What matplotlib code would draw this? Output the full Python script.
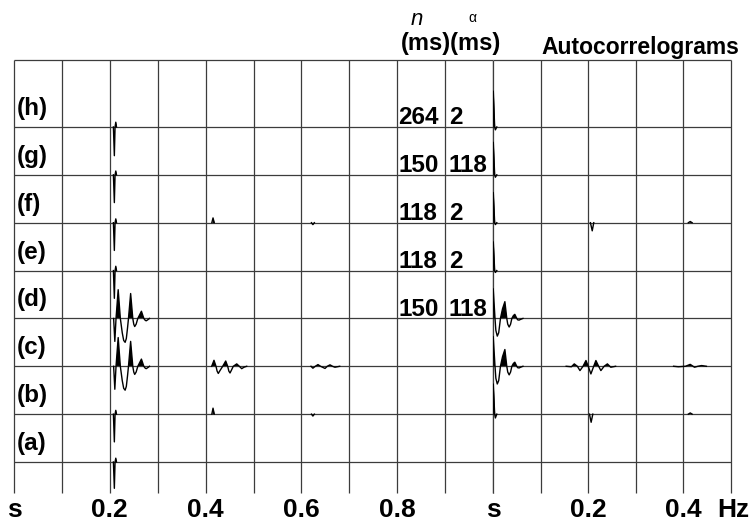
import matplotlib.pyplot as plt
import numpy as np

plt.rcParams['font.family'] = ['Liberation Sans', 'DejaVu Sans']
plt.rcParams['font.weight'] = 'bold'

W, H = 755, 522

# traces, bottom to top
row_labels = ['(a)', '(b)', '(c)', '(d)', '(e)', '(f)', '(g)', '(h)']

# filter table (rows h..d)
table_rows = [7, 6, 5, 4, 3]
n_ms = ['264', '150', '118', '118', '150']
alpha_ms = ['2', '118', '2', '2', '118']

# ---- left panel: seismic traces, time in ms, amplitude in trace spacings ----
spike_t = [207.5, 209.5, 211, 212.5, 214]
spike_a = [
    [0, -0.55, 0, 0.08, 0],   # (a)
    [0, -0.58, 0, 0.08, 0],   # (b)
    None,                     # (c)
    None,                     # (d)
    [0, -0.58, 0, 0.09, 0],   # (e)
    [0, -0.58, 0, 0.08, 0],   # (f)
    [0, -0.58, 0, 0.08, 0],   # (g)
    [0, -0.60, 0, 0.10, 0],   # (h)
]

# primary wavelet on (c) and (d)
wav_t = [208, 210.5, 213, 217.5, 222, 226, 229, 232, 234.5, 237, 239, 243.5, 248,
         250, 252, 255, 258.5, 266, 271, 274, 276, 279, 283]
wav_a = [0, -0.48, 0, 0.60, 0, -0.30, -0.46, -0.50, -0.42, -0.20, 0, 0.52, 0,
         -0.12, -0.17, -0.12, 0, 0.15, 0, -0.04, -0.05, -0.03, 0]

# multiples on (c)
echo1_t = [412.7, 417.5, 421.7, 424, 426.5, 430, 435.7, 442, 446.1, 448.5, 451,
           454, 457.8, 465, 470.4, 475.4, 480, 485.8]
echo1_a = [0, 0.125, 0, -0.10, -0.15, -0.09, 0, 0.11, 0, -0.10, -0.14,
           -0.08, 0, 0.05, 0, -0.05, -0.02, 0]
echo2_t = [620, 624, 629, 634.6, 640, 649.3, 654, 659.7, 665, 670, 680]
echo2_a = [0, -0.04, 0, 0.035, 0, -0.045, 0, 0.03, 0, -0.02, 0]

# small multiple spikes on (b) and (f)
mspike_t = [413, 415.5, 418]
mspike_a = [0, 0.125, 0]
mspike_f_a = [0, 0.10, 0]
dot_t = [621, 624, 627]
dot_a = [0, -0.04, 0]

# ---- right panel: autocorrelograms, lag in ms ----
acf0_t = [0, 0.6, 3.5, 5, 8]
acf0_a = [
    None,                       # (a)
    [0, 0.63, 0, -0.08, 0],     # (b)
    None,                       # (c)
    None,                       # (d)
    [0, 0.60, 0, -0.04, 0],     # (e)
    [0, 0.63, 0, -0.04, 0],     # (f)
    [0, 0.68, 0, -0.05, 0],     # (g)
    [0, 0.75, 0, -0.06, 0],     # (h)
]
acfw_t = [0, 0.5, 4.2, 6, 9, 12, 15.7, 20, 25, 29, 31, 34, 37, 39.7, 43, 45.9,
          50, 52, 54.9, 58, 63]
acfw_a = [0, 0.62, 0, -0.25, -0.37, -0.30, 0, 0.20, 0.35, 0, -0.12, -0.18,
          -0.12, 0, 0.06, 0.085, 0, -0.03, -0.035, -0.02, 0]
acfe1_t = [154, 165, 171, 177.5, 183, 189.4, 195.6, 200.4, 206, 211.9, 216.5,
           222.3, 227, 233.8, 240.7, 247.8, 258]
acfe1_a = [0, -0.01, 0.05, 0, -0.09, 0, 0.12, 0, -0.16, 0, 0.12, 0, -0.09, 0,
           0.05, -0.02, 0]
acfe2_t = [380, 390, 405, 415, 424, 431, 439, 449]
acfe2_a = [0, -0.01, 0, 0.04, -0.02, 0, 0.015, 0]
acfs_t = [203, 206.5, 210]
acfs_a = [0, -0.17, 0]
acfs_f_t = [205, 208.8, 212]
acft_t = [411, 415, 419]
acft_a = [0, 0.025, 0]

row_px = 47.86
y_lo = -31 / row_px
y_hi = 402 / row_px


def draw(ax, row, t_ms, a):
    t = np.array(t_ms) / 1000.0
    y = row + np.array(a)
    ax.fill_between(t, row, y, where=y > row, interpolate=True, color='k', lw=0)
    ax.plot(t, y, color='k', lw=1.0)


fig = plt.figure(figsize=(W / 100, H / 100), dpi=100)
axL = fig.add_axes([14 / W, 29 / H, 479 / W, 433 / H])
axR = fig.add_axes([493 / W, 29 / H, 240 / W, 433 / H])

for ax, xmax in [(axL, 1.0), (axR, 0.5)]:
    ax.set_xlim(0, xmax)
    ax.set_ylim(y_lo, y_hi)
    for s in ax.spines.values():
        s.set_visible(False)
    ax.set_yticks([])
    ax.vlines(np.arange(0, xmax + 0.01, 0.1), y_lo, y_hi, color='#3c3c3c', lw=0.9, clip_on=False)
    ax.hlines(list(range(8)) + [y_hi], 0, xmax, color='#3c3c3c', lw=0.9, clip_on=False)
    ax.tick_params(axis='x', length=0, pad=3.5, labelsize=19)

axL.set_xticks([0, 0.2, 0.4, 0.6, 0.8], ['s', '0.2', '0.4', '0.6', '0.8'])
axR.set_xticks([0, 0.2, 0.4, 0.505], ['s', '0.2', '0.4', 'Hz'])

# left traces
for i, a in enumerate(spike_a):
    if a is not None:
        draw(axL, i, spike_t, a)
for i in (2, 3):
    draw(axL, i, wav_t, wav_a)
draw(axL, 2, echo1_t, echo1_a)
draw(axL, 2, echo2_t, echo2_a)
draw(axL, 1, mspike_t, mspike_a)
draw(axL, 5, mspike_t, mspike_f_a)
draw(axL, 1, dot_t, dot_a)
draw(axL, 5, dot_t, dot_a)

# autocorrelograms
for i, a in enumerate(acf0_a):
    if a is not None:
        draw(axR, i, acf0_t, a)
for i in (2, 3):
    draw(axR, i, acfw_t, acfw_a)
draw(axR, 2, acfe1_t, acfe1_a)
draw(axR, 2, acfe2_t, acfe2_a)
draw(axR, 1, acfs_t, acfs_a)
draw(axR, 5, acfs_f_t, acfs_a)
draw(axR, 1, acft_t, acft_a)
draw(axR, 5, acft_t, acft_a)

# row labels and filter parameters
for i, lab in enumerate(row_labels):
    axL.text(0.006, i + 0.25, lab, fontsize=17.5, ha='left', va='baseline')
for r, n, al in zip(table_rows, n_ms, alpha_ms):
    axL.text(0.802, r + 0.06, n, fontsize=17.5, ha='left', va='baseline')
    axL.text(0.908, r + 0.06, al, fontsize=17.5, ha='left', va='baseline')

# headers
fig.text(411 / W, 1 - 25 / H, 'n', fontsize=16, style='italic', weight='normal', va='baseline')
fig.text(468 / W, 1 - 22 / H, 'α', fontsize=10, weight='normal', va='baseline')
fig.text(401 / W, 1 - 50 / H, '(ms)(ms)', fontsize=17, va='baseline')
fig.text(541 / W, 1 - 54 / H, 'Autocorrelograms', fontsize=16.5, va='baseline')

fig.savefig('out.png', dpi=100, facecolor='white')
